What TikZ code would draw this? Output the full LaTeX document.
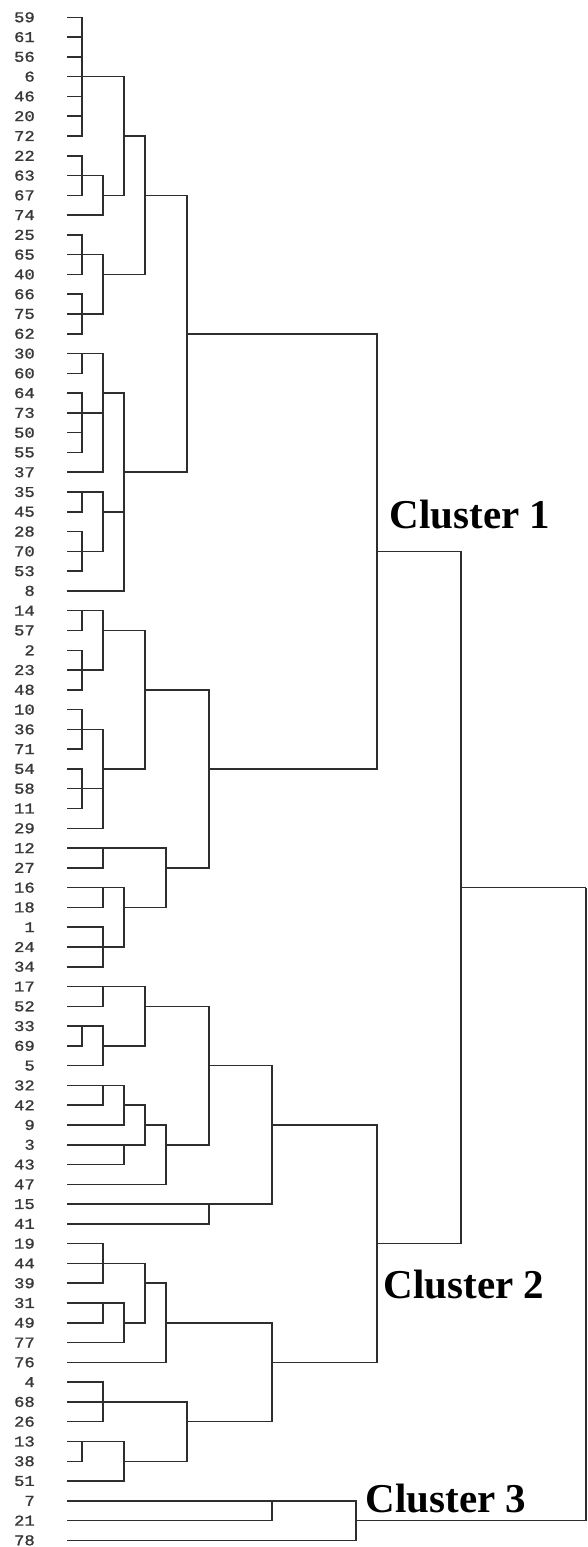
\documentclass[tikz,border=0pt]{standalone}
\usepackage{fontspec}
\setmainfont{Liberation Serif}
\newfontfamily\leaffont[FakeStretch=1.15,FakeBold=1.2]{Liberation Mono}

% one merge of the tree: name, x of its vertical bar, row of its outgoing branch, children
\newcommand\joinc[4]{%
  \coordinate (#1) at (#2,{17.3+19.78*#3});
  \foreach \ch in {#4}{\draw[link] (\ch) -- (\ch -| #1) -- (#1);}%
}

\begin{document}
\begin{tikzpicture}[x=1pt,y=-1pt,
  link/.style={draw=black!82,line width=1.5pt,line join=miter},
  leaflabel/.style={anchor=east,inner sep=0pt,text=black!78,
    font=\leaffont\fontsize{15}{16}\selectfont},
  clabel/.style={anchor=base west,inner sep=0pt,
    font=\bfseries\fontsize{41}{44}\selectfont}]
\useasboundingbox (0,0) rectangle (588,1547);

% leaves: labels and the starting points of their branches
\foreach \lab [count=\i from 0] in {59,61,56,6,46,20,72,22,63,67,74,25,65,40,66,75,62,30,60,64,73,50,55,37,35,45,28,70,53,8,14,57,2,23,48,10,36,71,54,58,11,29,12,27,16,18,1,24,34,17,52,33,69,5,32,42,9,3,43,47,15,41,19,44,39,31,49,77,76,4,68,26,13,38,51,7,21,78}{
  \node[leaflabel] (t\i) at (35,{17.3+19.78*\i}) {\lab};
  \coordinate (l\i) at (67,{17.3+19.78*\i});
}

% first cluster
\joinc{A1}{82}{3}{l0,l1,l2,l3,l4,l5,l6}
\joinc{A2}{82}{8}{l7,l8,l9}
\joinc{B1}{103}{9}{A2,l10}
\joinc{C1}{124}{6}{A1,B1}
\joinc{A3}{82}{12}{l11,l12,l13}
\joinc{A4}{82}{15}{l14,l15,l16}
\joinc{B2}{103}{13}{A3,A4}
\joinc{D1}{145}{9}{C1,B2}
\joinc{A5}{82}{17}{l17,l18}
\joinc{A6}{82}{20}{l19,l20,l21,l22}
\joinc{B3}{103}{19}{A5,A6,l23}
\joinc{A7}{82}{24}{l24,l25}
\joinc{A8}{82}{27}{l26,l27,l28}
\joinc{B4}{103}{25}{A7,A8}
\joinc{C2}{124}{23}{B3,B4,l29}
\joinc{F1}{187}{16}{D1,C2}
\joinc{A9}{82}{30}{l30,l31}
\joinc{A10}{82}{33}{l32,l33,l34}
\joinc{B5}{103}{31}{A9,A10}
\joinc{A11}{82}{36}{l35,l36,l37}
\joinc{A12}{82}{39}{l38,l39,l40}
\joinc{B6}{103}{38}{A11,A12,l41}
\joinc{D2}{145}{34}{B5,B6}
\joinc{B7}{103}{42}{l42,l43}
\joinc{B8}{103}{44}{l44,l45}
\joinc{B9}{103}{47}{l46,l47,l48}
\joinc{C3}{124}{45}{B8,B9}
\joinc{E1}{166}{43}{B7,C3}
\joinc{G1}{209}{38}{D2,E1}
\joinc{P1}{377}{27}{F1,G1}

% second cluster
\joinc{B10}{103}{49}{l49,l50}
\joinc{A13}{82}{51}{l51,l52}
\joinc{B11}{103}{52}{A13,l53}
\joinc{D3}{145}{50}{B10,B11}
\joinc{B12}{103}{54}{l54,l55}
\joinc{C4}{124}{55}{B12,l56}
\joinc{C5}{124}{57}{l57,l58}
\joinc{D4}{145}{56}{C4,C5}
\joinc{E2}{166}{57}{D4,l59}
\joinc{G2}{209}{53}{D3,E2}
\joinc{G3}{209}{60}{l60,l61}
\joinc{H1}{272}{56}{G2,G3}
\joinc{B13}{103}{63}{l62,l63,l64}
\joinc{B14}{103}{65}{l65,l66}
\joinc{C6}{124}{66}{B14,l67}
\joinc{D5}{145}{64}{B13,C6}
\joinc{E3}{166}{66}{D5,l68}
\joinc{B15}{103}{70}{l69,l70,l71}
\joinc{A14}{82}{72}{l72,l73}
\joinc{C7}{124}{73}{A14,l74}
\joinc{F2}{187}{71}{B15,C7}
\joinc{H2}{272}{68}{E3,F2}
\joinc{P2}{377}{62}{H1,H2}
\joinc{Q}{461}{44}{P1,P2}

% third cluster and the root
\joinc{H3}{272}{75}{l75,l76}
\joinc{P3}{356}{76}{H3,l77}
\joinc{R}{586}{44}{Q,P3}

% cluster names
\node[clabel] (c1) at (389.5,528) {Cluster 1};
\node[clabel] (c2) at (383.7,1298) {Cluster 2};
\node[clabel] (c3) at (365.5,1512.5) {Cluster 3};
\end{tikzpicture}
\end{document}
